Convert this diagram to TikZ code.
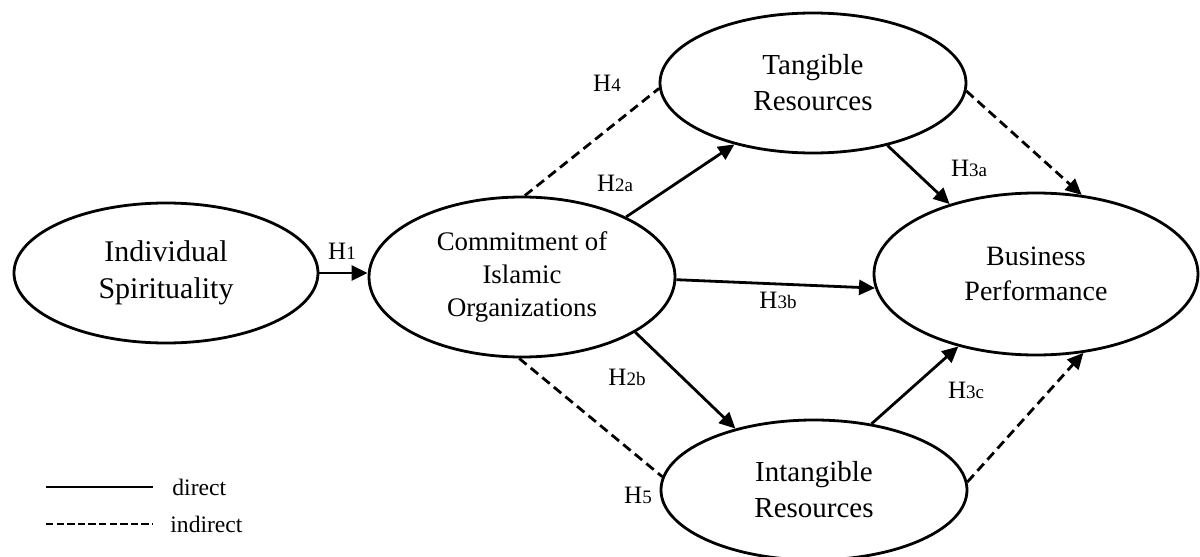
\documentclass[tikz,border=0pt]{standalone}
\usepackage{fontspec}
\setmainfont{Liberation Serif}
\usetikzlibrary{arrows.meta,shapes.geometric}
\newcommand\hyplab[1]{H{\fontsize{9.5}{11}\selectfont #1}}
\begin{document}
\begin{tikzpicture}[x=0.5pt,y=-0.5pt,
  ell/.style={draw, ellipse, line width=1.4pt, inner sep=0pt, align=center},
  conn/.style={line width=1.4pt, -{Triangle[length=8pt,width=7.5pt]}},
  ind/.style={line width=1.4pt, dash pattern=on 4.8pt off 2.7pt},
  indarr/.style={ind, -{Triangle[length=8pt,width=7.5pt]}},
  hlab/.style={font=\fontsize{12.5}{14}\selectfont, inner sep=0pt},
  legtext/.style={font=\fontsize{11.8}{14}\selectfont, inner sep=0pt, anchor=west},
]
\useasboundingbox (0,0) rectangle (1200,557);

\node[ell, minimum width=152pt, minimum height=70pt, font=\fontsize{15}{18.5}\selectfont] (IS) at (166,273) {Individual\\Spirituality};
\node[ell, minimum width=153pt, minimum height=80pt, font=\fontsize{13.4}{16.5}\selectfont] (CIO) at (522,277) {Commitment of\\Islamic\\Organizations};
\node[ell, minimum width=153pt, minimum height=70pt, font=\fontsize{14.5}{18}\selectfont] (TR) at (813,83) {Tangible\\Resources};
\node[ell, minimum width=162pt, minimum height=81pt, font=\fontsize{14}{17.5}\selectfont] (BP) at (1036,274) {Business\\Performance};
\node[ell, minimum width=153pt, minimum height=70pt, font=\fontsize{14.5}{18}\selectfont] (IR) at (814,490) {Intangible\\Resources};

\draw[conn] (IS.east) -- (IS.east -| CIO.west);
\draw[conn] (CIO.30.7) -- (TR.218.4);
\draw[conn] (TR.-40.3) -- (BP.141.1);
\draw[conn] (CIO.-1) -- (BP.185);
\draw[conn] (CIO.-26.6) -- (IR.142);
\draw[conn] (IR.49.5) -- (BP.-137);
\draw[ind] (CIO.88) -- (TR.182);
\draw[indarr] (TR.-3) -- (BP.60);
\draw[ind] (CIO.-92) -- (IR.175);
\draw[indarr] (IR.3) -- (BP.-59.5);

\node[hlab] (h1) at (342,251) {\hyplab{1}};
\node[hlab] (h2a) at (615,183) {\hyplab{2a}};
\node[hlab] (h4) at (607,83) {\hyplab{4}};
\node[hlab] (h3a) at (969,168) {\hyplab{3a}};
\node[hlab] (h3b) at (778,300) {\hyplab{3b}};
\node[hlab] (h2b) at (627,377) {\hyplab{2b}};
\node[hlab] (h5) at (638,495) {\hyplab{5}};
\node[hlab] (h3c) at (966,390) {\hyplab{3c}};

\coordinate (ld1) at (46,487);
\coordinate (ld2) at (153,487);
\coordinate (li1) at (46,524);
\coordinate (li2) at (153,524);
\draw[line width=1.4pt] (ld1) -- (ld2);
\draw[line width=1.4pt, dash pattern=on 3.7pt off 1.6pt] (li1) -- (li2);
\node[legtext] (ldt) at (172,487) {direct};
\node[legtext] (lit) at (170,524) {indirect};
\end{tikzpicture}
\end{document}
